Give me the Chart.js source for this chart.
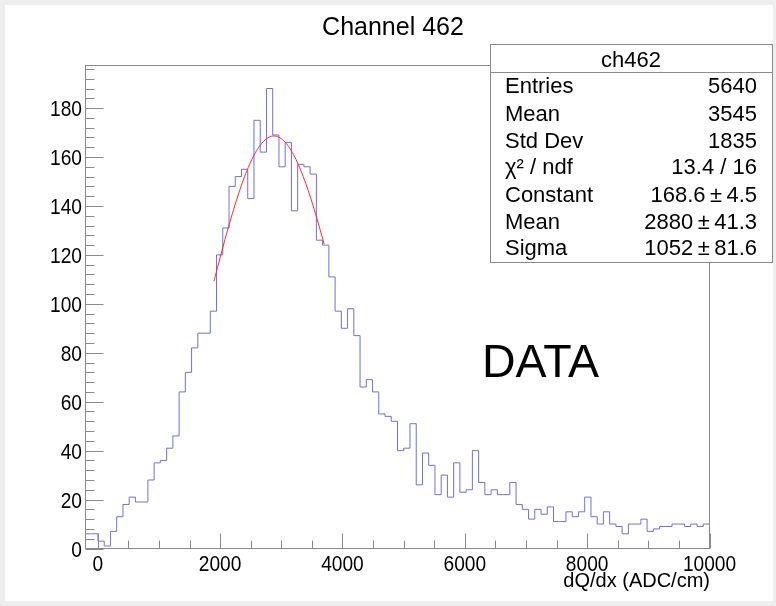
<!DOCTYPE html>
<html>
<head>
<meta charset="utf-8">
<title>Channel 462</title>
<script src="https://cdn.jsdelivr.net/npm/chart.js@4.4.1/dist/chart.umd.min.js"></script>
<style>
  html, body { margin: 0; padding: 0; background: #eeeeee; }
  #wrap { position: absolute; left: 0; top: 0; width: 776px; height: 606px; }
</style>
</head>
<body>
<div id="wrap"><canvas id="myChart" width="776" height="606"></canvas></div>
<script>
// histogram ch462: 100 bins from -200 to 10000
var xMin = -200, xMax = 10000, binWidth = 102;
var binCounts = [
  6, 6, 3, 1, 7, 13, 18, 21, 19, 19,
  28, 35, 36, 41, 46, 64, 72, 82, 88, 88,
  97, 120, 131, 148, 152, 155, 143, 175, 162, 188,
  169, 156, 166, 138, 157, 156, 153, 126, 124, 111,
  97, 90, 98, 87, 66, 69, 64, 55, 54, 52,
  40, 41, 51, 26, 39, 34, 22, 30, 21, 35,
  23, 24, 40, 27, 22, 24, 22, 22, 27, 18,
  16, 12, 16, 14, 17, 11, 11, 15, 13, 15,
  21, 13, 10, 15, 10, 9, 6, 10, 10, 12,
  7, 8, 9, 9, 10, 10, 9, 10, 9, 10
];
var yMax = 197.4;
var xTickLabels = [0, 2000, 4000, 6000, 8000, 10000];
var yTickLabels = [0, 20, 40, 60, 80, 100, 120, 140, 160, 180];
var xMinorStep = 500, yMinorStep = 4;

// gaus fit result
var fitConstant = 168.6, fitMean = 2880, fitSigma = 1052;
var fitRange = [1900, 3700];

var statsTitle = "ch462";
var statsLabels = ["Entries", "Mean", "Std Dev", "\u03C7\u00B2 / ndf", "Constant", "Mean", "Sigma"];
var statsValues = ["5640", "3545", "1835", "13.4 / 16", "168.6\u2009\u00B1\u20094.5", "2880\u2009\u00B1\u200941.3", "1052\u2009\u00B1\u200981.6"];

var FONT = "'Liberation Sans', Arial, Helvetica, sans-serif";
var axisGray = '#8a8a8a';

function txt(ctx, s, x, y, size, align, sx) {
  ctx.save();
  ctx.font = size + 'px ' + FONT;
  ctx.textAlign = align;
  ctx.textBaseline = 'alphabetic';
  ctx.fillStyle = '#000';
  ctx.translate(x, y);
  ctx.scale(sx || 1, 1);
  ctx.fillText(s, 0, 0);
  ctx.restore();
}

// one point per bin low edge, plus the upper edge of the last bin
var histPoints = [];
binCounts.forEach(function(c, i) {
  histPoints.push({ x: xMin + i * binWidth, y: c });
});
histPoints.push({ x: xMax, y: binCounts[binCounts.length - 1] });

var fitPoints = [];
for (var fx = fitRange[0]; fx <= fitRange[1]; fx += 20) {
  var d = (fx - fitMean) / fitSigma;
  fitPoints.push({ x: fx, y: fitConstant * Math.exp(-0.5 * d * d) });
}

var rootStyle = {
  id: 'rootStyle',
  beforeDraw: function(chart) {
    var ctx = chart.ctx;
    ctx.save();
    ctx.fillStyle = '#eeeeee';
    ctx.fillRect(0, 0, chart.width, chart.height);
    ctx.fillStyle = '#ffffff';
    ctx.fillRect(5, 5, 768, 596);
    ctx.restore();
    txt(ctx, 'Channel 462', 393, 35, 25, 'center');
  },
  afterDatasetsDraw: function(chart) {
    var ctx = chart.ctx;
    var a = chart.chartArea;
    var xs = chart.scales.x, ys = chart.scales.y;
    ctx.save();
    ctx.strokeStyle = axisGray;
    ctx.lineWidth = 1;
    ctx.strokeRect(a.left, a.top, a.right - a.left, a.bottom - a.top);

    // ticks pointing into the frame
    ctx.beginPath();
    for (var v = 0; v <= xMax; v += xMinorStep) {
      var px = Math.round(xs.getPixelForValue(v)) + 0.5;
      var len = (v % 2000 === 0) ? 15 : 8;
      ctx.moveTo(px, a.bottom);
      ctx.lineTo(px, a.bottom - len);
    }
    for (var w = 0; w <= yMax; w += yMinorStep) {
      var py = Math.round(ys.getPixelForValue(w)) + 0.5;
      var ln = (w % 20 === 0) ? 18 : 9;
      ctx.moveTo(a.left, py);
      ctx.lineTo(a.left + ln, py);
    }
    ctx.stroke();
    ctx.restore();

    xTickLabels.forEach(function(t) {
      txt(ctx, String(t), xs.getPixelForValue(t), 571, 22, 'center', 0.87);
    });
    yTickLabels.forEach(function(t) {
      txt(ctx, String(t), 82, ys.getPixelForValue(t) + 8, 22, 'right', 0.87);
    });
    txt(ctx, 'dQ/dx (ADC/cm)', 710, 587, 20, 'right');

    txt(ctx, 'DATA', 482, 377, 46.5, 'left');

    // stats box
    ctx.save();
    ctx.fillStyle = '#ffffff';
    ctx.fillRect(490.5, 44.5, 282, 218);
    ctx.strokeStyle = axisGray;
    ctx.strokeRect(490.5, 44.5, 282, 218);
    ctx.beginPath();
    ctx.moveTo(490.5, 72.5);
    ctx.lineTo(772.5, 72.5);
    ctx.stroke();
    ctx.restore();
    txt(ctx, statsTitle, 631, 67, 22, 'center');
    var rows = [93, 120.5, 147.5, 173.5, 202, 229, 254.5];
    statsLabels.forEach(function(l, i) {
      txt(ctx, l, 505, rows[i], 22, 'left');
      txt(ctx, statsValues[i], 757, rows[i], 22, 'right');
    });
  }
};

var ctx = document.getElementById('myChart');
var histChart = new Chart(ctx, {
  type: 'line',
  data: {
    datasets: [{
      label: 'ch462',
      data: histPoints,
      stepped: 'before',
      borderColor: 'rgb(112, 112, 218)',
      borderWidth: 1,
      pointRadius: 0,
      fill: false,
      order: 2
    }, {
      label: 'gaus',
      data: fitPoints,
      borderColor: 'rgb(255, 40, 40)',
      borderWidth: 1,
      pointRadius: 0,
      tension: 0,
      fill: false,
      order: 1
    }]
  },
  options: {
    responsive: false,
    maintainAspectRatio: false,
    animation: false,
    devicePixelRatio: 1,
    layout: { padding: { left: 85.5, right: 66.5, top: 65.5, bottom: 57.5 } },
    scales: {
      x: { type: 'linear', min: xMin, max: xMax, display: false },
      y: { type: 'linear', min: 0, max: yMax, display: false }
    },
    plugins: {
      legend: { display: false },
      tooltip: { enabled: false },
      title: { display: false }
    },
    events: []
  },
  plugins: [rootStyle]
});
</script>
</body>
</html>
